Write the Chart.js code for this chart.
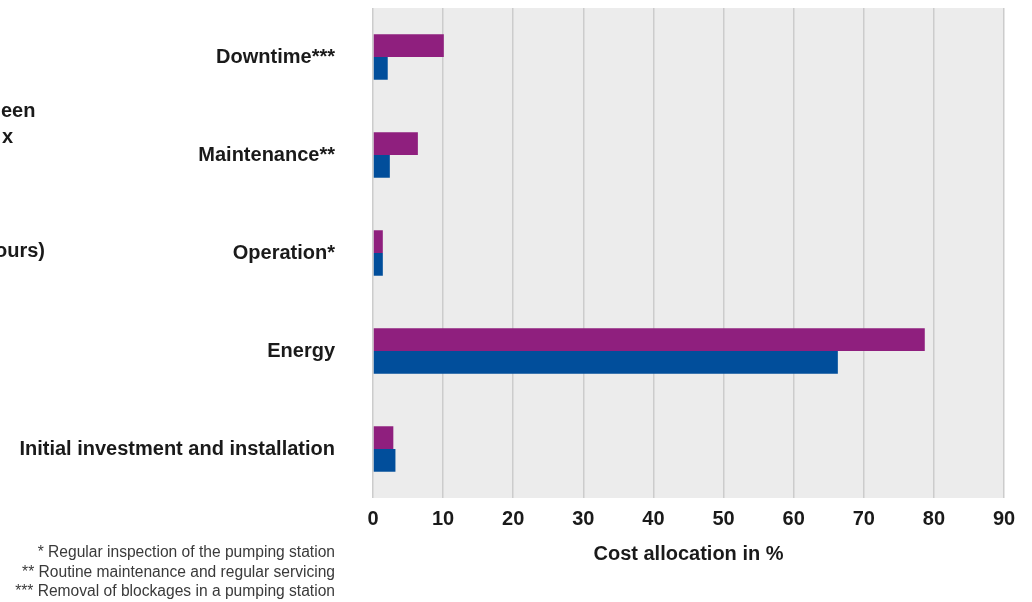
<!DOCTYPE html>
<html>
<head>
<meta charset="utf-8">
<script src="https://cdn.jsdelivr.net/npm/chart.js@4"></script>
<style>
  body { margin: 0; background: #fff; }
  #wrap { position: relative; width: 1032px; height: 602px; }
</style>
</head>
<body>
<div id="wrap"><canvas id="myChart" width="1032" height="602"></canvas></div>
<script>
var categories = ["Downtime***", "Maintenance**", "Operation*", "Energy", "Initial investment and installation"];
var purpleValues = [10.1, 6.4, 1.4, 78.7, 2.9];
var blueValues = [2.1, 2.4, 1.4, 66.3, 3.2];
var xTicks = [0, 10, 20, 30, 40, 50, 60, 70, 80, 90];
var footnotes = [
  "* Regular inspection of the pumping station",
  "** Routine maintenance and regular servicing",
  "*** Removal of blockages in a pumping station"
];
// text of a block cut off at the left edge of the picture
var clippedText = ["een", "x", "ours)"];

var labelFont = "'Liberation Sans', Arial, sans-serif";

// grey plot background + the extra text around the chart
var extrasPlugin = {
  id: 'extras',
  beforeDraw: function (chart) {
    var a = chart.chartArea, c = chart.ctx;
    c.save();
    c.fillStyle = '#ececec';
    c.fillRect(a.left, a.top, a.right - a.left, a.bottom - a.top);
    c.restore();
  },
  afterDraw: function (chart) {
    var c = chart.ctx;
    c.save();
    c.fillStyle = '#3a3a3a';
    c.font = "15.6px " + labelFont;
    c.textAlign = 'right';
    c.textBaseline = 'middle';
    for (var i = 0; i < footnotes.length; i++) {
      c.fillText(footnotes[i], 335, 553 + i * 19.5);
    }
    c.fillStyle = '#1a1a1a';
    c.font = "bold 20px " + labelFont;
    c.textAlign = 'left';
    c.fillText(clippedText[0], 1, 111);
    c.fillText(clippedText[1], 2, 137);
    c.fillText(clippedText[2], -5, 251);
    c.restore();
  }
};

var ctx = document.getElementById("myChart").getContext("2d");
var myChart = new Chart(ctx, {
  type: 'bar',
  data: {
    labels: categories,
    datasets: [{
      data: purpleValues,
      backgroundColor: '#8f1f7e',
      categoryPercentage: 0.464,
      barPercentage: 1
    }, {
      data: blueValues,
      backgroundColor: '#014e9b',
      categoryPercentage: 0.464,
      barPercentage: 1
    }]
  },
  options: {
    indexAxis: 'y',
    responsive: false,
    animation: false,
    devicePixelRatio: 1,
    layout: { padding: { top: 8, right: 28, left: 0, bottom: 0 } },
    plugins: { legend: { display: false }, tooltip: { enabled: false } },
    scales: {
      x: {
        min: 0,
        max: 90,
        afterBuildTicks: function (scale) {
          scale.ticks = xTicks.map(function (v) { return { value: v }; });
        },
        afterFit: function (scale) { scale.height = 104; },
        grid: { color: '#cccccc', lineWidth: 1.5, drawTicks: false },
        border: { display: false },
        ticks: {
          color: '#1a1a1a',
          padding: 9,
          font: { family: labelFont, size: 20, weight: 'bold' }
        },
        title: {
          display: true,
          text: 'Cost allocation in %',
          color: '#1a1a1a',
          padding: { top: 0, bottom: 36 },
          font: { family: labelFont, size: 20, weight: 'bold' }
        }
      },
      y: {
        afterFit: function (scale) { scale.width = 373; },
        // invisible tick marks push the labels away from the plot
        // (a big tick padding would also pad the top of the chart)
        grid: { drawOnChartArea: false, drawTicks: true, tickLength: 42, tickColor: 'rgba(0,0,0,0)' },
        border: { display: false },
        ticks: {
          color: '#1a1a1a',
          padding: -4,
          font: { family: labelFont, size: 20, weight: 'bold' }
        }
      }
    }
  },
  plugins: [extrasPlugin]
});
</script>
</body>
</html>
